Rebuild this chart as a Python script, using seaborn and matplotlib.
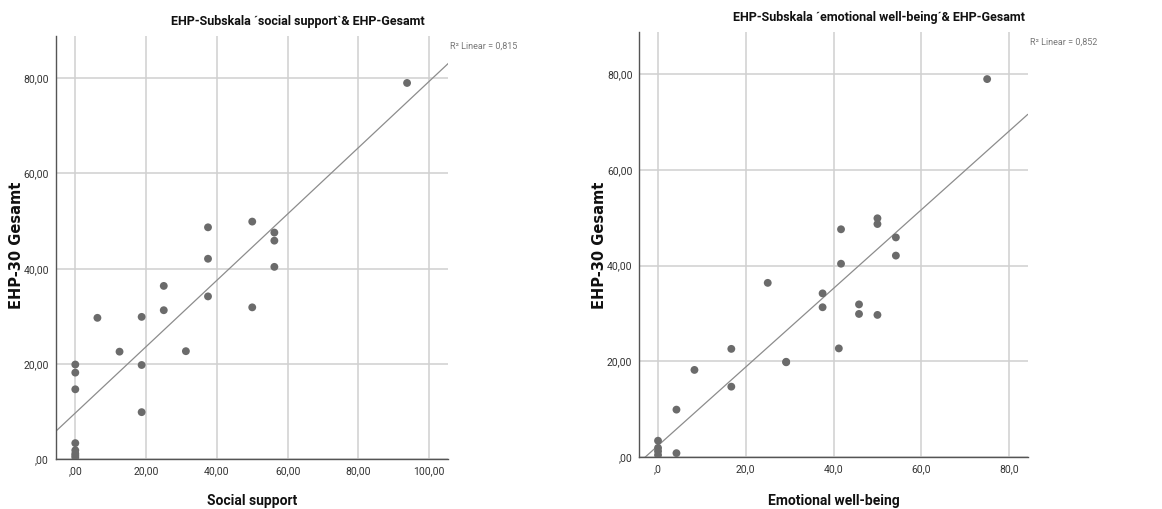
import numpy as np
import pandas as pd
import matplotlib
matplotlib.use("Agg")
import matplotlib.pyplot as plt
import seaborn as sns

# ---------------- data ----------------
ehp_total = [79.0, 49.9, 48.7, 47.6, 45.9, 42.1, 40.4, 36.4, 34.2, 31.9, 31.3, 29.9, 29.7,
             22.7, 22.6, 19.9, 19.8, 18.2, 14.7, 9.9, 3.4, 1.9, 1.2, 0.8, 0.4]
social_support = [93.75, 50.0, 37.5, 56.25, 56.25, 37.5, 56.25, 25.0, 37.5, 50.0, 25.0, 18.75, 6.25,
                  31.25, 12.5, 0.0, 18.75, 0.0, 0.0, 18.75, 0.0, 0.0, 0.0, 0.0, 0.0]
emotional_wb = [75.0, 50.0, 50.0, 41.7, 54.2, 54.2, 41.7, 25.0, 37.5, 45.8, 37.5, 45.8, 50.0,
                41.2, 16.7, 29.2, 29.2, 8.3, 16.7, 4.2, 0.0, 0.0, 0.0, 4.2, 0.0]

titles = ["EHP-Subskala \u00b4social support`& EHP-Gesamt",
          "EHP-Subskala \u00b4emotional well-being\u00b4& EHP-Gesamt"]
xlabels = ["Social support", "Emotional well-being"]
ylabel = "EHP-30 Gesamt"
r2_labels = ["R\u00b2 Linear = 0,815", "R\u00b2 Linear = 0,852"]
y_ticks = [0, 20, 40, 60, 80]
y_ticklabels = [",00", "20,00", "40,00", "60,00", "80,00"]
x_ticks_left = [0, 20, 40, 60, 80, 100]
x_ticklabels_left = [",00", "20,00", "40,00", "60,00", "80,00", "100,00"]
x_ticks_right = [0, 20, 40, 60, 80]
x_ticklabels_right = [",0", "20,0", "40,0", "60,0", "80,0"]

df = pd.DataFrame({"total": ehp_total, "ss": social_support, "ewb": emotional_wb})

# ---------------- style ----------------
sns.set_theme(style="white")
narrow = ["Roboto", "DejaVu Sans"]
plt.rcParams["font.family"] = narrow

fig = plt.figure(figsize=(11.62, 5.09), dpi=100)
ax1 = fig.add_axes([0.0482, 0.0976, 0.3376, 0.8316])
ax2 = fig.add_axes([0.5502, 0.1022, 0.3343, 0.8350])

specs = [
    (ax1, "ss", (-5.45, 105.4), x_ticks_left, x_ticklabels_left, 0, 16.7),
    (ax2, "ewb", (-4.26, 84.26), x_ticks_right, x_ticklabels_right, 1, 599.3),
]

point_color = "#6b6b6b"
for ax, col, xlim, xt, xtl, i, ylab_x in specs:
    ax.set_xlim(*xlim)
    ax.set_ylim(0, 88.85)
    ax.set_xticks(xt)
    ax.set_xticklabels(xtl)
    ax.set_yticks(y_ticks)
    ax.set_yticklabels(y_ticklabels)
    ax.grid(True, color="#d0d0d0", linewidth=1.1, zorder=0)
    ax.set_axisbelow(True)
    sns.regplot(data=df, x=col, y="total", ax=ax, ci=None, truncate=False,
                scatter_kws=dict(s=32, color=point_color, edgecolor="none", alpha=1, zorder=3),
                line_kws=dict(color="#8c8c8c", linewidth=0.9, zorder=2))
    ax.set_xlim(*xlim)
    ax.set_ylim(0, 88.85)
    for s in ["top", "right"]:
        ax.spines[s].set_visible(False)
    for s in ["left", "bottom"]:
        ax.spines[s].set_color("#555555")
        ax.spines[s].set_linewidth(1.0)
    ax.tick_params(axis="both", length=0, pad=5, labelsize=7.5, colors="#333333")
    ax.set_xlabel("")
    ax.set_ylabel("")
    bb = ax.get_position()
    fig.text((bb.x0 + bb.x1) / 2, 1 - 501.5 / 509, xlabels[i], ha="center", va="center",
             fontsize=10, fontweight="bold", color="#111111")
    fig.text(ylab_x / 1162, 1 - 245 / 509, ylabel, ha="center", va="center", rotation=90,
             fontsize=10.5, fontweight="bold", family="DejaVu Sans", color="#111111")
    ax.text(0.617, 1.035, titles[i], transform=ax.transAxes, ha="center", va="center",
            fontsize=9, fontweight="bold", color="#111111")
    ax.text(1.005, 0.975, r2_labels[i], transform=ax.transAxes, ha="left", va="center",
            fontsize=6.5, color="#777777")

fig.savefig("out.png", dpi=100)
